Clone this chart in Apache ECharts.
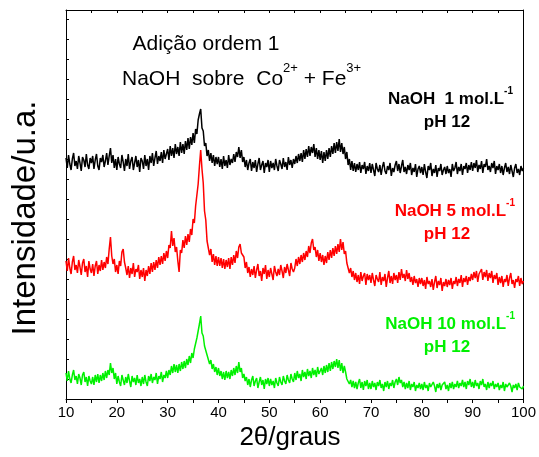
<!DOCTYPE html>
<html>
<head>
<meta charset="utf-8">
<script src="https://cdn.jsdelivr.net/npm/echarts@6/dist/echarts.min.js"></script>
<style>
  html, body { margin: 0; padding: 0; background: #fff; }
  #chart { width: 539px; height: 457px; }
</style>
</head>
<body>
<div id="chart"></div>
<script>
// 2θ grid of the scans: 10° to 100°, step 0.25°
var angleStart = 10;
var angleStep = 0.25;

// intensities (a.u., curves already offset as in the figure), one row = 5°
var naoh1 = [
  241,231,244,235,229,240,246,233,238,230,243,236,228,242,239,232,245,234,230,241,
  236,243,230,239,245,233,229,241,237,244,232,238,246,234,243,251,236,244,231,240,
  229,242,235,231,244,237,228,240,233,245,230,238,242,229,236,243,232,239,227,241,
  238,230,244,233,240,229,243,236,246,233,241,248,235,243,238,247,236,249,240,245,
  250,239,253,243,251,241,255,245,252,243,257,246,255,245,258,249,261,250,262,254,
  266,256,270,265,279,285,290,271,268,253,256,243,249,238,246,236,244,233,242,235,
  242,232,240,230,243,233,239,231,244,234,240,236,245,237,247,242,252,241,249,237,
  242,232,239,229,236,240,228,237,231,239,227,235,241,229,234,238,226,236,232,239,
  227,238,231,236,229,240,233,228,239,235,230,241,232,237,229,242,234,239,231,240,
  235,243,236,245,238,246,237,249,240,250,242,253,243,252,246,255,242,251,240,249,
  239,248,236,247,238,249,240,251,242,253,245,256,246,257,248,260,247,256,245,252,
  240,247,234,240,229,238,228,236,227,235,229,237,226,234,230,237,225,233,228,236,
  226,235,229,223,236,230,227,234,224,232,237,228,225,233,229,236,223,231,227,234,
  238,228,235,226,233,239,227,232,225,234,229,236,224,231,227,235,222,230,233,226,
  232,224,235,227,221,233,229,236,223,230,226,234,222,231,228,235,224,229,232,225,
  233,226,230,222,235,228,231,237,225,232,228,235,224,233,230,236,226,234,229,237,
  228,236,231,239,227,234,230,238,226,235,232,240,229,233,227,236,231,238,225,233,
  229,235,226,233,224,231,236,227,232,225,234,228,222,231,235,226,230,224,233,228,
  231
];

var naoh5 = [
  138,128,141,131,125,137,143,129,134,126,139,132,124,136,140,127,133,122,138,130,
  126,135,123,133,138,125,134,128,139,129,137,131,142,135,150,162,143,135,140,127,
  134,125,138,133,147,150,137,131,124,133,121,131,125,136,122,130,127,134,120,129,
  122,131,118,129,123,133,125,136,127,137,129,139,131,142,134,143,135,146,138,148,
  141,154,151,168,153,161,147,152,138,127,149,146,159,151,163,154,165,157,170,164,
  180,176,193,195,215,233,249,230,216,188,179,158,160,144,150,137,145,134,143,133,
  142,133,141,131,140,130,139,132,141,130,142,134,144,136,148,141,152,155,146,147,
  142,131,137,126,132,122,130,124,133,121,129,135,123,128,118,131,125,134,120,129,
  122,131,125,119,133,127,123,130,124,134,128,121,132,126,135,129,123,136,130,127,
  131,140,133,142,135,144,137,146,139,148,142,153,146,156,160,149,152,142,149,138,
  146,137,144,134,143,136,147,139,149,141,151,143,153,145,155,147,160,149,157,145,
  148,136,138,126,131,122,128,119,126,117,124,115,127,118,123,126,114,125,119,124,
  116,126,119,113,124,120,117,127,114,122,118,125,112,121,128,116,123,115,126,119,
  124,116,127,119,130,121,125,118,129,120,126,117,122,114,123,116,120,112,121,115,
  121,113,119,110,122,115,118,112,120,109,117,123,111,118,114,121,108,117,113,120,
  112,119,114,121,110,118,115,122,113,120,116,124,112,121,117,123,114,122,118,125,
  119,127,121,128,117,125,123,130,119,127,122,129,118,126,121,128,116,124,120,126,
  114,122,116,123,112,120,117,124,113,121,126,115,119,111,120,117,123,113,121,115,
  118
];

var naoh10 = [
  26,18,28,20,16,24,29,19,23,15,25,21,14,24,27,17,22,13,23,18,
  15,22,14,24,17,25,16,24,18,26,19,28,21,29,24,36,26,31,20,26,
  15,23,17,13,24,19,14,22,16,25,18,12,23,17,21,14,24,16,20,13,
  22,15,24,17,13,23,18,25,16,22,19,26,15,23,20,27,17,24,21,28,
  21,29,24,33,26,35,27,34,26,35,28,37,30,38,31,40,34,43,36,46,
  41,50,48,61,62,75,83,66,63,53,55,44,45,35,39,30,35,27,32,24,
  31,23,28,20,27,19,28,21,27,20,29,23,31,24,33,26,37,27,31,21,
  25,18,22,14,20,12,19,23,13,18,21,11,17,22,14,19,10,20,15,21,
  13,20,14,18,11,21,16,13,22,17,14,23,18,15,24,19,16,25,20,17,
  26,19,28,21,25,18,29,22,27,20,30,23,28,21,31,24,29,22,32,25,
  23,31,24,33,26,34,27,36,28,37,30,38,32,40,31,39,28,36,26,33,
  27,20,22,15,19,12,18,11,17,10,16,20,11,17,9,18,13,19,10,16,
  10,18,12,16,9,17,13,19,11,15,8,17,12,18,10,16,13,19,11,17,
  20,14,22,16,19,12,17,10,16,11,18,9,15,12,17,8,14,11,16,10,
  15,9,17,11,14,8,16,12,10,17,13,7,15,11,16,9,14,12,17,10,
  14,8,16,11,17,10,15,12,18,11,16,13,19,12,17,10,18,14,20,12,
  17,11,19,13,16,10,18,14,20,12,15,9,17,11,16,13,18,10,15,12,
  16,9,14,11,17,8,15,12,10,16,13,7,14,11,15,9,16,12,14,10,
  13
];

var xTicks = [10, 20, 30, 40, 50, 60, 70, 80, 90, 100];

function toPairs(values) {
  return values.map(function (v, i) { return [angleStart + i * angleStep, v]; });
}

var font = "'Liberation Sans', Arial, sans-serif";
var myChart = echarts.init(document.getElementById('chart'));

function supLabel(main, color, x, y) {
  return {
    type: 'text', x: x, y: y,
    style: {
      text: '{n|' + main + '}{s|-1}',
      fill: color, align: 'right', verticalAlign: 'middle',
      rich: {
        n: { fontSize: 17, fontWeight: 'bold', fontFamily: font, fill: color, lineHeight: 22, verticalAlign: 'bottom' },
        s: { fontSize: 10, fontWeight: 'bold', fontFamily: font, fill: color, lineHeight: 22, verticalAlign: 'top' }
      }
    }
  };
}

function phLabel(color, y) {
  return {
    type: 'text', x: 447, y: y,
    style: { text: 'pH 12', font: 'bold 17px ' + font, fill: color, align: 'center', verticalAlign: 'middle' }
  };
}

var option = {
  animation: false,
  backgroundColor: '#fff',
  grid: { left: 66, right: 14, top: 10, bottom: 58 },
  xAxis: [
    {
      type: 'value',
      min: xTicks[0],
      max: xTicks[xTicks.length - 1],
      interval: 10,
      axisLine: { onZero: false, lineStyle: { color: '#000', width: 1 } },
      axisTick: { show: true, inside: false, length: 4, lineStyle: { color: '#000' } },
      minorTick: { show: true, splitNumber: 2, length: 4, lineStyle: { color: '#000' } },
      axisLabel: { color: '#000', fontSize: 15, fontFamily: font, margin: 6 },
      splitLine: { show: false }
    },
    {
      type: 'value',
      position: 'top',
      min: xTicks[0],
      max: xTicks[xTicks.length - 1],
      interval: 10,
      axisLine: { show: true, onZero: false, lineStyle: { color: '#000', width: 1 } },
      axisTick: { show: true, inside: true, length: 3, lineStyle: { color: '#000' } },
      minorTick: { show: true, splitNumber: 2, length: 3, lineStyle: { color: '#000' } },
      axisLabel: { show: false },
      splitLine: { show: false }
    }
  ],
  yAxis: [
    {
      type: 'value',
      min: 0,
      max: 389,
      interval: 20,
      axisLine: { show: true, onZero: false, lineStyle: { color: '#000', width: 1 } },
      axisTick: { show: true, inside: true, length: 3, lineStyle: { color: '#000' } },
      axisLabel: { show: false },
      splitLine: { show: false }
    },
    {
      type: 'value',
      position: 'right',
      min: 0,
      max: 389,
      axisLine: { show: true, onZero: false, lineStyle: { color: '#000', width: 1 } },
      axisTick: { show: false },
      axisLabel: { show: false },
      splitLine: { show: false }
    }
  ],
  series: [
    {
      name: 'NaOH 10', type: 'line', data: toPairs(naoh10), showSymbol: false,
      lineStyle: { color: '#00f000', width: 1.5 }, z: 3
    },
    {
      name: 'NaOH 5', type: 'line', data: toPairs(naoh5), showSymbol: false,
      lineStyle: { color: '#ff0000', width: 1.5 }, z: 4
    },
    {
      name: 'NaOH 1', type: 'line', data: toPairs(naoh1), showSymbol: false,
      lineStyle: { color: '#000000', width: 1.5 }, z: 5
    }
  ],
  graphic: [
    {
      type: 'text', x: 26, y: 218, rotation: Math.PI / 2,
      style: { text: 'Intensidade/u.a.', font: '33px ' + font, fill: '#000', align: 'center', verticalAlign: 'middle' }
    },
    {
      type: 'text', x: 290, y: 438,
      style: { text: '2θ/graus', font: '26px ' + font, fill: '#000', align: 'center', verticalAlign: 'middle' }
    },
    {
      type: 'text', x: 206, y: 44,
      style: { text: 'Adição ordem 1', font: '21px ' + font, fill: '#000', align: 'center', verticalAlign: 'middle' }
    },
    {
      type: 'text', x: 122, y: 76,
      style: {
        text: '{n|NaOH  sobre  Co}{s|2+}{n| + Fe}{s|3+}',
        fill: '#000', align: 'left', verticalAlign: 'middle',
        rich: {
          n: { fontSize: 21, fontFamily: font, fill: '#000', lineHeight: 28, verticalAlign: 'bottom' },
          s: { fontSize: 13, fontFamily: font, fill: '#000', lineHeight: 28, verticalAlign: 'top' }
        }
      }
    },
    supLabel('NaOH  1 mol.L', '#000000', 513, 97),
    phLabel('#000000', 122),
    supLabel('NaOH 5 mol.L', '#ff0000', 515, 209),
    phLabel('#ff0000', 234),
    supLabel('NaOH 10 mol.L', '#00f000', 515, 322),
    phLabel('#00f000', 347)
  ]
};

myChart.setOption(option);
</script>
</body>
</html>
